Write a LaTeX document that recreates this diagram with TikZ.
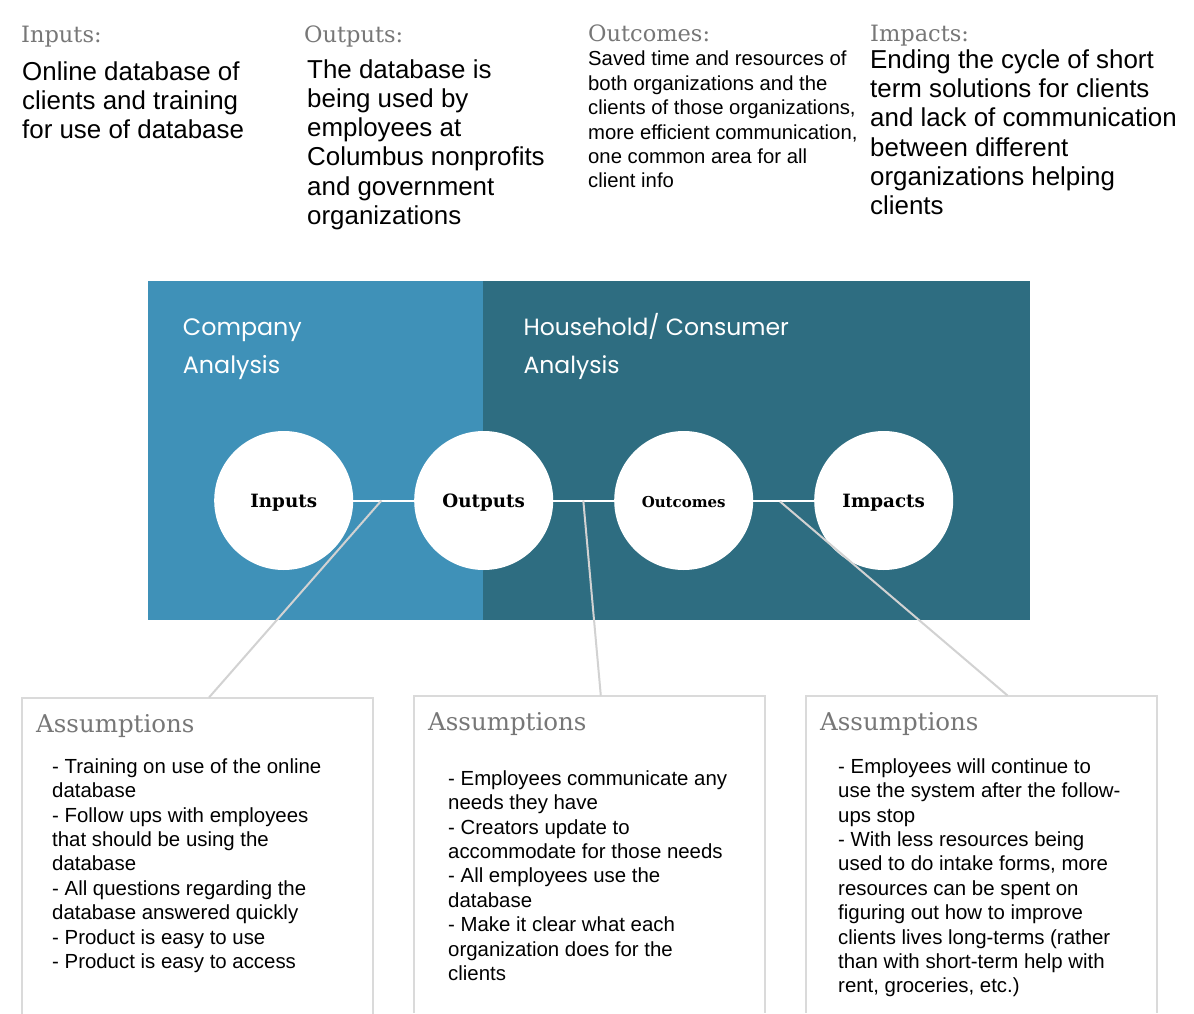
\documentclass[tikz,border=0pt]{standalone}
\usepackage{fontspec}
\setmainfont{Liberation Sans}
\newfontfamily\slab{DejaVu Serif}
\newfontfamily\geo{Poppins}
\definecolor{panelA}{HTML}{3F91B8}
\definecolor{panelB}{HTML}{2E6D81}
\definecolor{hdrgray}{HTML}{777777}
\definecolor{raycol}{HTML}{D2D2D2}
\definecolor{boxcol}{HTML}{DADADA}
\newcommand{\blk}[4]{\parbox[t]{#1pt}{\fontsize{#2}{#3}\selectfont\raggedright #4}}
\begin{document}
\begin{tikzpicture}[x=1pt,y=-1pt,
  hdr/.style={anchor=base west, inner sep=0pt, text=hdrgray, font=\slab\fontsize{22.5}{26}\selectfont},
  ahdr/.style={anchor=base west, inner sep=0pt, text=hdrgray, font=\slab\fontsize{24.5}{28}\selectfont},
  body/.style={anchor=base west, inner sep=0pt, text=black},
  panelhdr/.style={anchor=base west, inner sep=0pt, text=white, font=\geo},
  circ/.style={circle, fill=white, minimum size=139pt, inner sep=0pt, text height=13.5pt, text depth=0pt, font=\slab\bfseries\fontsize{18.3}{22}\selectfont},
  link/.style={white, line width=2pt},
  ray/.style={raycol, line width=2pt},
  abox/.style={anchor=north west, minimum width=351pt, minimum height=317pt, inner sep=0pt},
  boxline/.style={boxcol, line width=2pt}
]
\useasboundingbox (0,0) rectangle (1194,1014);
\fill[white] (0,0) rectangle (1194,1014);

% top texts
\node[hdr] (hin) at (21,42.3) {Inputs:};
\node[hdr] (hout) at (304,42.3) {Outputs:};
\node[hdr] (hoc) at (588,41.8) {Outcomes:};
\node[hdr] (himp) at (870,41.8) {Impacts:};

\node[body] (tin) at (22,80.3) {\blk{265}{25.9}{29.3}{Online database of\\clients and training\\for use of database}};
\node[body] (tout) at (307,78.3) {\blk{280}{25.9}{29.2}{The database is\\being used by\\employees at\\Columbus nonprofits\\and government\\organizations}};
\node[body] (toc) at (588,66) {\blk{285}{20.3}{24.4}{Saved time and resources of\\both organizations and the\\clients of those organizations,\\more efficient communication,\\one common area for all\\client info}};
\node[body] (timp) at (870,68.3) {\blk{322}{25.9}{29.3}{Ending the cycle of short\\term solutions for clients\\and lack of communication\\between different\\organizations helping\\clients}};

% panel
\node[fill=panelA, draw=none, inner sep=0pt, anchor=north west, minimum width=335.4pt, minimum height=338.3pt] (pA) at (147.3,281) {};
\node[fill=panelB, draw=none, inner sep=0pt, anchor=north west, minimum width=546.6pt, minimum height=338.3pt] (pB) at (482.7,281) {};
\node[panelhdr] (ca) at (182.7,335) {\blk{250}{23.8}{38.3}{Company\\Analysis}};
\node[panelhdr] (hc) at (523.3,335) {\blk{330}{23.5}{38.3}{Household/ Consumer\\Analysis}};

% circles
\node[circ] (cin) at (283.7,500.5) {Inputs};
\node[circ] (cout) at (483.7,500.5) {Outputs};
\node[circ, font=\slab\bfseries\fontsize{15}{18}\selectfont] (coc) at (683.7,500.5) {Outcomes};
\node[circ] (cimp) at (883.7,500.5) {Impacts};
\draw[link] (cin) -- (cout);
\draw[link] (cout) -- (coc);
\draw[link] (coc) -- (cimp);

% assumption boxes
\node[abox] (b1) at (22,697.5) {};
\node[abox] (b2) at (414,695.5) {};
\node[abox] (b3) at (806,695.5) {};
\foreach \b in {b1,b2,b3}{
  \draw[boxline] (\b.south west) -- (\b.north west) -- (\b.north east) -- (\b.south east);
}

% rays
\coordinate (r1) at (381.5,500.5);
\coordinate (r2) at (583.3,500.5);
\coordinate (r3) at (780,501.5);
\coordinate (e1) at (209,697.5);
\coordinate (e2) at (600.8,695.5);
\coordinate (e3) at (1007.5,695.5);
\draw[ray] (r1) -- (e1);
\draw[ray] (r2) -- (e2);
\draw[ray] (r3) -- (e3);

\node[ahdr] (a1) at (36,732) {Assumptions};
\node[ahdr] (a2) at (428,730) {Assumptions};
\node[ahdr] (a3) at (820,730) {Assumptions};

\node[body] (l1) at (52,773.3) {\blk{310}{20.4}{24.4}{- Training on use of the online\\database\\- Follow ups with employees\\that should be using the\\database\\- All questions regarding the\\database answered quickly\\- Product is easy to use\\- Product is easy to access}};
\node[body] (l2) at (448,785.3) {\blk{310}{20.4}{24.4}{- Employees communicate any\\needs they have\\- Creators update to\\accommodate for those needs\\- All employees use the\\database\\- Make it clear what each\\organization does for the\\clients}};
\node[body] (l3) at (838,773.3) {\blk{310}{20.4}{24.4}{- Employees will continue to\\use the system after the follow-\\ups stop\\- With less resources being\\used to do intake forms, more\\resources can be spent on\\figuring out how to improve\\clients lives long-terms (rather\\than with short-term help with\\rent, groceries, etc.)}};
\end{tikzpicture}
\end{document}
